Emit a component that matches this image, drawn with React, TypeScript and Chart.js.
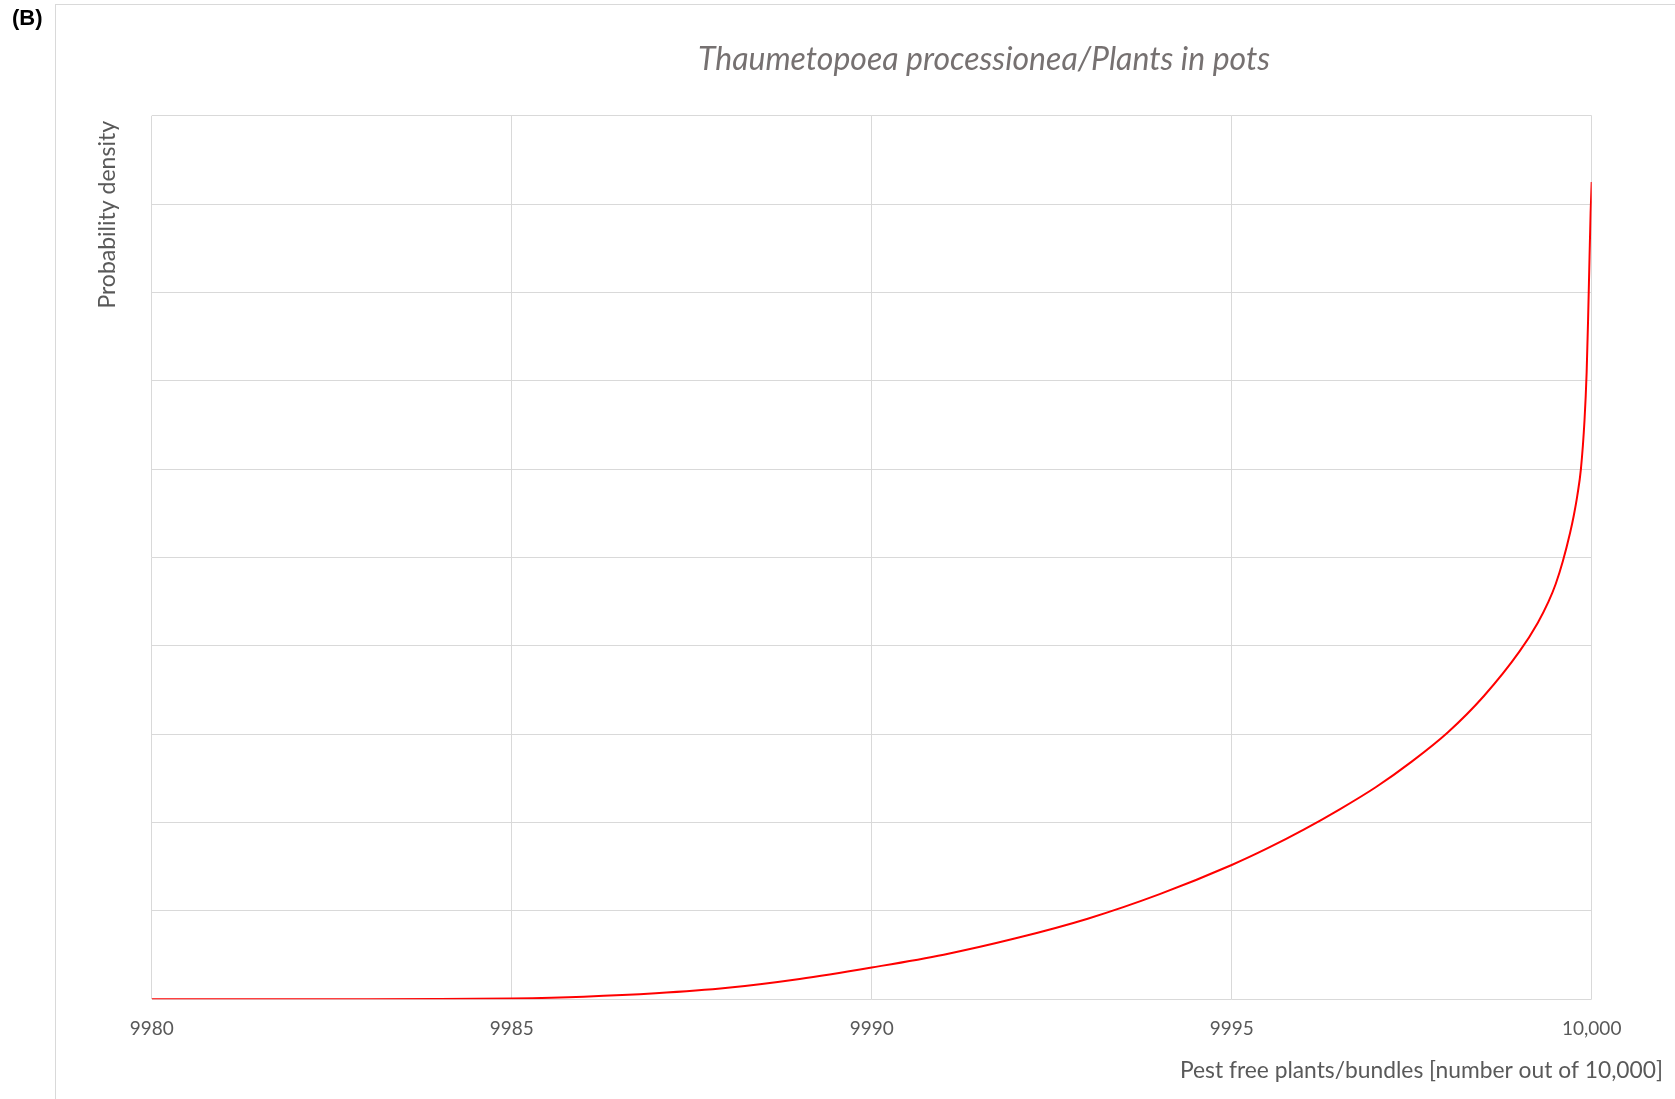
import React, { useEffect, useRef } from "react";
import { Chart, registerables } from "chart.js";

Chart.register(...registerables);

// Data
const xValues = [
  9980, 9981, 9982, 9983, 9984, 9985, 9986, 9987, 9988, 9989, 9990, 9991, 9992,
  9993, 9994, 9995, 9995.5, 9996, 9996.5, 9997, 9997.5, 9998, 9998.5, 9999,
  9999.25, 9999.4, 9999.5, 9999.6, 9999.7, 9999.75, 9999.8, 9999.85, 9999.9,
  9999.93, 9999.95, 9999.97, 9999.985, 10000,
];
const densityValues = [
  0, 0, 0, 0, 0.002, 0.01, 0.03, 0.068, 0.13, 0.23, 0.36, 0.505, 0.69, 0.912,
  1.19, 1.52, 1.71, 1.92, 2.15, 2.4, 2.69, 3.02, 3.43, 3.94, 4.26, 4.5, 4.7,
  4.96, 5.28, 5.47, 5.7, 6.0, 6.55, 7.1, 7.7, 8.4, 8.9, 9.25,
];
const xTickLabels = ["9980", "9985", "9990", "9995", "10,000"];

const chartTitle = "Thaumetopoea processionea/Plants in pots";
const xAxisTitle = "Pest free plants/bundles [number out of 10,000]";
const yAxisTitle = "Probability density";
const panelLabel = "(B)";

const W = 1675;
const H = 1099;
const PLOT_BOTTOM = 999.3;

const textPlugin = {
  id: "customText",
  afterDraw(chart: any) {
    const ctx = chart.ctx;
    ctx.save();
    // panel label
    ctx.fillStyle = "#000000";
    ctx.font = "bold 22px 'Liberation Sans', Arial, sans-serif";
    ctx.textAlign = "left";
    ctx.textBaseline = "middle";
    ctx.fillText(panelLabel, 12, 19);
    // title
    ctx.fillStyle = "#767171";
    ctx.font = "italic 32px Lato, 'Open Sans', sans-serif";
    ctx.textAlign = "center";
    ctx.fillText(chartTitle, 984, 60);
    // x axis title
    ctx.fillStyle = "#595959";
    ctx.font = "22.8px Lato, 'Open Sans', sans-serif";
    ctx.textAlign = "right";
    ctx.fillText(xAxisTitle, 1663, 1071);
    // y axis title
    ctx.font = "23px Lato, 'Open Sans', sans-serif";
    ctx.translate(108, 121);
    ctx.rotate(-Math.PI / 2);
    ctx.textAlign = "right";
    ctx.fillText(yAxisTitle, 0, 0);
    ctx.restore();
  },
};

export default function App() {
  const ref = useRef<HTMLCanvasElement | null>(null);
  useEffect(() => {
    if (!ref.current) return;
    const chart = new Chart(ref.current, {
      type: "line",
      data: {
        datasets: [
          {
            data: xValues.map((x, i) => ({ x, y: densityValues[i] })),
            borderColor: "#ff0000",
            borderWidth: 2,
            pointRadius: 0,
            fill: false,
            cubicInterpolationMode: "monotone",
          },
        ],
      },
      options: {
        responsive: false,
        animation: false,
        devicePixelRatio: 1,
        layout: {
          padding: { left: 151.7, right: W - 1591.7, top: 115.7, bottom: 0 },
        },
        plugins: {
          legend: { display: false },
          title: { display: false },
          tooltip: { enabled: false },
        },
        scales: {
          x: {
            type: "linear",
            min: 9980,
            max: 10000,
            border: { display: false },
            grid: { color: "#d9d9d9", lineWidth: 1, drawTicks: false },
            afterFit: (s: any) => {
              s.height = H - PLOT_BOTTOM;
            },
            ticks: {
              stepSize: 5,
              padding: 30,
              crossAlign: "center",
              color: "#595959",
              font: { family: "Lato, 'Open Sans', sans-serif", size: 19 },
              callback: (_v: any, i: number) => xTickLabels[i],
              maxRotation: 0,
              autoSkip: false,
            },
          },
          y: {
            type: "linear",
            min: 0,
            max: 10,
            border: { display: false },
            grid: { color: "#d9d9d9", lineWidth: 1, drawTicks: false },
            afterFit: (s: any) => {
              s.width = 0;
            },
            ticks: { stepSize: 1, display: false },
          },
        },
      },
      plugins: [textPlugin],
    });
    return () => chart.destroy();
  }, []);

  return (
    <div
      style={{
        position: "fixed",
        left: 0,
        top: 0,
        width: W,
        height: H,
        overflow: "hidden",
        background: "#ffffff",
      }}
    >
      <div
        style={{
          position: "absolute",
          left: 55,
          top: 4,
          width: 1800,
          height: 1200,
          borderLeft: "1px solid #d9d9d9",
          borderTop: "1px solid #d9d9d9",
        }}
      />
      <canvas
        ref={ref}
        width={W}
        height={H}
        style={{ position: "absolute", left: 0, top: 0, width: W, height: H }}
      />
    </div>
  );
}
